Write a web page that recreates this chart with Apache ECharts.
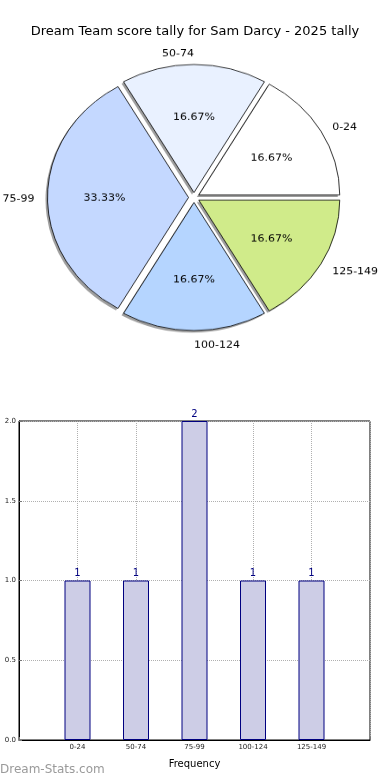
<!DOCTYPE html>
<html><head><meta charset="utf-8">
<script src="https://cdn.jsdelivr.net/npm/echarts@6/dist/echarts.min.js"></script>
<style>
html,body{margin:0;padding:0;background:#fff;}
#main{position:absolute;left:0;top:0;width:390px;height:780px;}
#pie{position:absolute;left:0;top:0;width:390px;height:400px;transform-origin:194px 197.5px;transform:scaleY(0.908);}
</style></head><body>
<div id="main"></div><div id="pie"></div>
<script>
const titleText = 'Dream Team score tally for Sam Darcy - 2025 tally';
const categories = ['0-24', '50-74', '75-99', '100-124', '125-149'];
const frequencies = [1, 1, 2, 1, 1];
const sliceColors = ['#ffffff', '#e9f1ff', '#c4d8ff', '#b5d5ff', '#d0eb8a'];
const yTicks = [0, 0.5, 1, 1.5, 2];
const watermark = 'Dream-Stats.com';
const xAxisName = 'Frequency';
const FONT = 'DejaVu Sans';
const total = frequencies.reduce((a, b) => a + b, 0);

const main = echarts.init(document.getElementById('main'), null, {renderer: 'canvas'});
main.setOption({
  backgroundColor: '#ffffff',
  animation: false,
  title: {text: titleText, left: 'center', top: 20,
    textStyle: {fontFamily: FONT, fontSize: 13, fontWeight: 'normal', color: '#000'}},
  graphic: [{type: 'text', left: 0, top: 764,
    style: {text: watermark, fontFamily: FONT, fontSize: 12, fill: '#9a9a9a'}}],
  grid: {left: 19, right: 20, top: 421, bottom: 40, show: true, borderColor: '#000', borderWidth: 1,
    backgroundColor: 'transparent'},
  xAxis: {type: 'value', min: 0, max: categories.length + 1, interval: 1,
    name: xAxisName, nameLocation: 'middle', nameGap: 19,
    nameTextStyle: {fontFamily: FONT, fontSize: 10, color: '#000'},
    axisLine: {show: true, lineStyle: {color: '#000'}},
    axisTick: {show: true, inside: true, length: 3, lineStyle: {color: '#777'}},
    axisLabel: {fontFamily: FONT, fontSize: 7, color: '#222', margin: 4,
      formatter: v => categories[v - 1] || ''},
    splitLine: {show: true, lineStyle: {color: '#b0b0b0', type: 'dotted', width: 1}}},
  yAxis: {type: 'value', min: yTicks[0], max: yTicks[yTicks.length - 1], interval: yTicks[1] - yTicks[0],
    axisLine: {show: true, lineStyle: {color: '#000'}},
    axisTick: {show: true, inside: true, length: 3, lineStyle: {color: '#777'}},
    axisLabel: {fontFamily: FONT, fontSize: 7, color: '#222', margin: 3, formatter: v => v.toFixed(1)},
    splitLine: {show: true, lineStyle: {color: '#b0b0b0', type: 'dotted', width: 1}}},
  series: [{type: 'bar', barWidth: 26,
    data: categories.map((c, i) => [i + 1, frequencies[i]]),
    itemStyle: {color: '#cdcde6', borderColor: '#000080', borderWidth: 1},
    label: {show: true, position: 'top', distance: 2, color: '#000080', fontSize: 10, fontFamily: FONT,
      formatter: p => String(p.value[1])},
    emphasis: {disabled: true}}]
});

const pie = echarts.init(document.getElementById('pie'), null, {renderer: 'canvas'});
const pieData = categories.map((c, i) => ({name: c, value: frequencies[i], selected: true,
  itemStyle: {color: sliceColors[i]}}));
const common = {type: 'pie', startAngle: 0, clockwise: false, selectedMode: 'multiple',
  selectedOffset: 5.5, avoidLabelOverlap: false, emphasis: {disabled: true}};
pie.setOption({
  backgroundColor: 'transparent',
  animation: false,
  series: [
    Object.assign({}, common, {
      center: [192, 199.7], radius: 141, silent: true,
      data: pieData.map(d => ({name: d.name, value: d.value, selected: true})),
      itemStyle: {color: 'rgba(0,0,0,0.38)', borderWidth: 0},
      label: {show: false}, labelLine: {show: false}
    }),
    Object.assign({}, common, {
      center: [194, 197.5], radius: 141,
      data: pieData,
      itemStyle: {borderColor: '#000', borderWidth: 0.8},
      label: {show: true, position: 'outside', formatter: '{b}', fontFamily: FONT, fontSize: 11,
        color: '#000', distanceToLabelLine: 0},
      labelLine: {show: false, length: 13, length2: 0},
      labelLayout: p => {
        const o = {dy: 2};
        if (p.dataIndex === 1) { o.align = 'right'; o.dy = 1; }
        if (p.dataIndex === 3) { o.align = 'left'; o.dy = 3; }
        return o;
      }
    }),
    Object.assign({}, common, {
      center: [194, 197.5], radius: [21, 141], silent: true,
      data: pieData.map(d => ({name: d.name, value: d.value, selected: true})),
      itemStyle: {color: 'rgba(0,0,0,0)', borderWidth: 0},
      label: {show: true, position: 'inside', fontFamily: FONT, fontSize: 11, color: '#000',
        formatter: p => (p.value / total * 100).toFixed(2) + '%'},
      labelLine: {show: false},
      labelLayout: {dy: 1}
    })
  ]
});
</script>
</body></html>
